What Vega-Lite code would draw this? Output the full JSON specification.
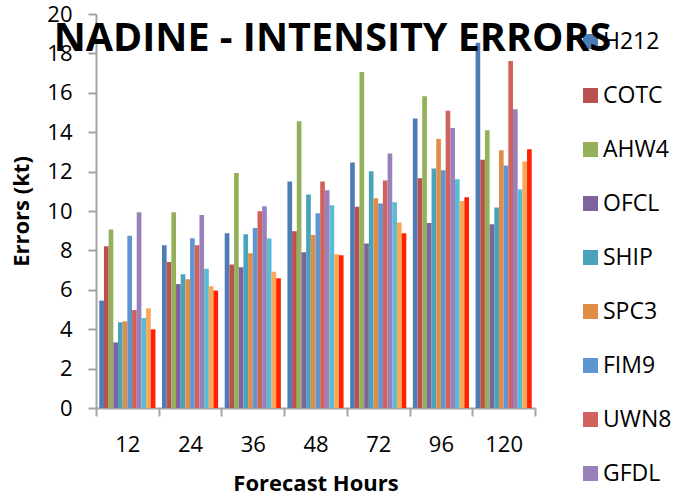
{
  "$schema": "https://vega.github.io/schema/vega-lite/v6.json",
  "width": 439,
  "height": 394,
  "autosize": {"type": "none"},
  "padding": {"left": 96, "top": 14, "right": 145, "bottom": 90},
  "background": "white",
  "title": {
    "text": "NADINE - INTENSITY ERRORS",
    "font": "Open Sans",
    "fontSize": 39.5,
    "fontWeight": "bold",
    "color": "black",
    "anchor": "middle",
    "frame": "group",
    "dx": 17,
    "offset": -56,
    "zindex": 2
  },
  "data": {
    "values": [
      {"h": "12", "model": "H212", "v": 5.45},
      {"h": "12", "model": "COTC", "v": 8.21},
      {"h": "12", "model": "AHW4", "v": 9.06},
      {"h": "12", "model": "OFCL", "v": 3.33},
      {"h": "12", "model": "SHIP", "v": 4.35},
      {"h": "12", "model": "SPC3", "v": 4.4},
      {"h": "12", "model": "FIM9", "v": 8.75},
      {"h": "12", "model": "UWN8", "v": 4.97},
      {"h": "12", "model": "GFDL", "v": 9.94},
      {"h": "12", "model": "DSHP", "v": 4.57},
      {"h": "12", "model": "LGEM", "v": 5.06},
      {"h": "12", "model": "ICON", "v": 3.99},
      {"h": "24", "model": "H212", "v": 8.26},
      {"h": "24", "model": "COTC", "v": 7.41},
      {"h": "24", "model": "AHW4", "v": 9.94},
      {"h": "24", "model": "OFCL", "v": 6.29},
      {"h": "24", "model": "SHIP", "v": 6.79},
      {"h": "24", "model": "SPC3", "v": 6.53},
      {"h": "24", "model": "FIM9", "v": 8.62},
      {"h": "24", "model": "UWN8", "v": 8.26},
      {"h": "24", "model": "GFDL", "v": 9.8},
      {"h": "24", "model": "DSHP", "v": 7.07},
      {"h": "24", "model": "LGEM", "v": 6.18},
      {"h": "24", "model": "ICON", "v": 5.96},
      {"h": "36", "model": "H212", "v": 8.87},
      {"h": "36", "model": "COTC", "v": 7.28},
      {"h": "36", "model": "AHW4", "v": 11.93},
      {"h": "36", "model": "OFCL", "v": 7.14},
      {"h": "36", "model": "SHIP", "v": 8.82},
      {"h": "36", "model": "SPC3", "v": 7.85},
      {"h": "36", "model": "FIM9", "v": 9.14},
      {"h": "36", "model": "UWN8", "v": 9.99},
      {"h": "36", "model": "GFDL", "v": 10.24},
      {"h": "36", "model": "DSHP", "v": 8.61},
      {"h": "36", "model": "LGEM", "v": 6.92},
      {"h": "36", "model": "ICON", "v": 6.58},
      {"h": "48", "model": "H212", "v": 11.5},
      {"h": "48", "model": "COTC", "v": 8.97},
      {"h": "48", "model": "AHW4", "v": 14.55},
      {"h": "48", "model": "OFCL", "v": 7.9},
      {"h": "48", "model": "SHIP", "v": 10.84},
      {"h": "48", "model": "SPC3", "v": 8.78},
      {"h": "48", "model": "FIM9", "v": 9.89},
      {"h": "48", "model": "UWN8", "v": 11.5},
      {"h": "48", "model": "GFDL", "v": 11.05},
      {"h": "48", "model": "DSHP", "v": 10.29},
      {"h": "48", "model": "LGEM", "v": 7.8},
      {"h": "48", "model": "ICON", "v": 7.75},
      {"h": "72", "model": "H212", "v": 12.46},
      {"h": "72", "model": "COTC", "v": 10.21},
      {"h": "72", "model": "AHW4", "v": 17.05},
      {"h": "72", "model": "OFCL", "v": 8.35},
      {"h": "72", "model": "SHIP", "v": 12.02},
      {"h": "72", "model": "SPC3", "v": 10.65},
      {"h": "72", "model": "FIM9", "v": 10.38},
      {"h": "72", "model": "UWN8", "v": 11.55},
      {"h": "72", "model": "GFDL", "v": 12.92},
      {"h": "72", "model": "DSHP", "v": 10.44},
      {"h": "72", "model": "LGEM", "v": 9.41},
      {"h": "72", "model": "ICON", "v": 8.87},
      {"h": "96", "model": "H212", "v": 14.7},
      {"h": "96", "model": "COTC", "v": 11.66},
      {"h": "96", "model": "AHW4", "v": 15.83},
      {"h": "96", "model": "OFCL", "v": 9.39},
      {"h": "96", "model": "SHIP", "v": 12.16},
      {"h": "96", "model": "SPC3", "v": 13.66},
      {"h": "96", "model": "FIM9", "v": 12.07},
      {"h": "96", "model": "UWN8", "v": 15.09},
      {"h": "96", "model": "GFDL", "v": 14.21},
      {"h": "96", "model": "DSHP", "v": 11.61},
      {"h": "96", "model": "LGEM", "v": 10.51},
      {"h": "96", "model": "ICON", "v": 10.7},
      {"h": "120", "model": "H212", "v": 18.54},
      {"h": "120", "model": "COTC", "v": 12.6},
      {"h": "120", "model": "AHW4", "v": 14.1},
      {"h": "120", "model": "OFCL", "v": 9.33},
      {"h": "120", "model": "SHIP", "v": 10.18},
      {"h": "120", "model": "SPC3", "v": 13.09},
      {"h": "120", "model": "FIM9", "v": 12.31},
      {"h": "120", "model": "UWN8", "v": 17.61},
      {"h": "120", "model": "GFDL", "v": 15.17},
      {"h": "120", "model": "DSHP", "v": 11.09},
      {"h": "120", "model": "LGEM", "v": 12.51},
      {"h": "120", "model": "ICON", "v": 13.14}
    ]
  },
  "mark": {"type": "bar"},
  "encoding": {
    "x": {
      "field": "h",
      "type": "nominal",
      "sort": ["12", "24", "36", "48", "72", "96", "120"],
      "scale": {"paddingInner": 0, "paddingOuter": 0},
      "axis": {
        "title": "Forecast Hours",
        "labelAngle": 0,
        "tickBand": "extent",
        "labelPadding": 18,
        "titlePadding": 18
      }
    },
    "xOffset": {
      "field": "model",
      "type": "nominal",
      "sort": ["H212", "COTC", "AHW4", "OFCL", "SHIP", "SPC3", "FIM9", "UWN8", "GFDL", "DSHP", "LGEM", "ICON"],
      "scale": {"paddingInner": 0, "paddingOuter": 0.7}
    },
    "y": {
      "field": "v",
      "type": "quantitative",
      "scale": {"domain": [0, 20], "nice": false},
      "axis": {
        "title": "Errors (kt)",
        "values": [0, 2, 4, 6, 8, 10, 12, 14, 16, 18, 20],
        "grid": false,
        "labelPadding": 16,
        "titlePadding": 13
      }
    },
    "color": {
      "field": "model",
      "type": "nominal",
      "scale": {
        "domain": ["H212", "COTC", "AHW4", "OFCL", "SHIP", "SPC3", "FIM9", "UWN8", "GFDL", "DSHP", "LGEM", "ICON"],
        "range": ["#4E7DB5", "#B9514E", "#95B05B", "#7E649C", "#49A3BA", "#E08E46", "#6096CF", "#D0625E", "#9A80BA", "#5BBAD4", "#F9A857", "#FF2200"]
      },
      "legend": {
        "title": null,
        "orient": "none",
        "legendX": 483,
        "legendY": 16,
        "symbolType": "square",
        "symbolSize": 225,
        "symbolStrokeWidth": 0,
        "labelFontSize": 23,
        "labelFont": "Open Sans",
        "labelColor": "black",
        "labelOffset": 1,
        "rowPadding": 30,
        "padding": 0,
        "zindex": 0
      }
    }
  },
  "config": {
    "view": {"stroke": null},
    "axis": {
      "domainColor": "#A3A3A3",
      "domainWidth": 2,
      "tickColor": "#A3A3A3",
      "tickWidth": 2,
      "tickSize": 8,
      "labelFont": "Open Sans",
      "labelFontSize": 22,
      "labelColor": "black",
      "titleFont": "Open Sans",
      "titleFontSize": 22,
      "titleFontWeight": "bold",
      "titleColor": "black"
    }
  }
}
